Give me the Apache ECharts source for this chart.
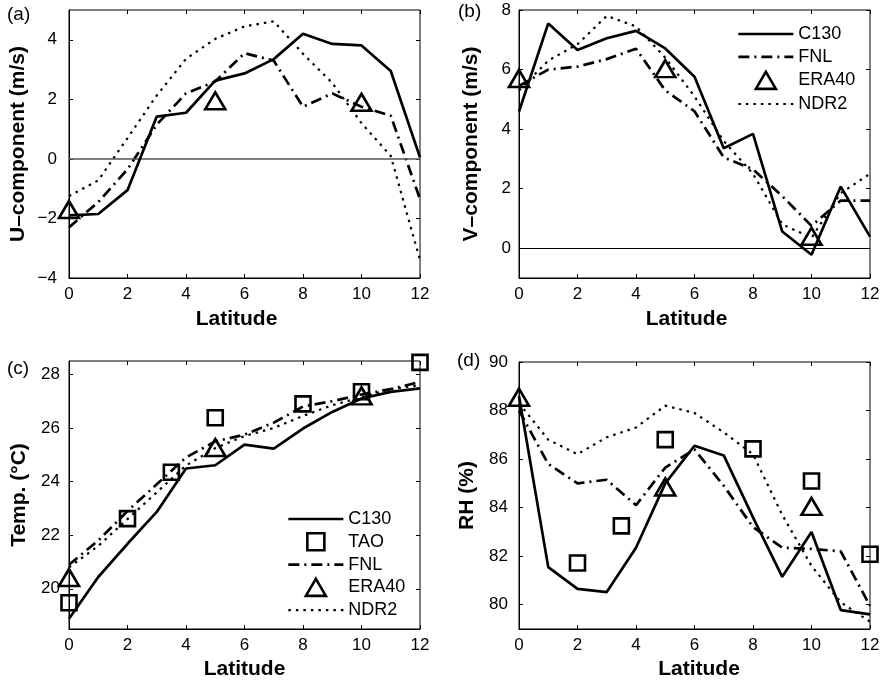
<!DOCTYPE html>
<html>
<head>
<meta charset="utf-8">
<script src="https://cdn.jsdelivr.net/npm/echarts@6/dist/echarts.min.js"></script>
<style>html,body{margin:0;padding:0;background:#fff;}#c{width:884px;height:683px;}</style>
</head>
<body>
<div id="c"></div>
<script>
// ---------- data ----------
const lat = [0, 1, 2, 3, 4, 5, 6, 7, 8, 9, 10, 11, 12];
const xTicks = [0, 2, 4, 6, 8, 10, 12];

// (a) U-component (m/s)
const aC130 = [-1.9, -1.85, -1.05, 1.42, 1.55, 2.63, 2.87, 3.35, 4.2, 3.86, 3.81, 2.95, 0.05];
const aFNL  = [-2.3, -1.45, -0.35, 1.15, 2.2, 2.6, 3.55, 3.3, 1.75, 2.2, 1.75, 1.45, -1.35];
const aNDR2 = [-1.25, -0.72, 0.7, 2.13, 3.36, 4.03, 4.45, 4.62, 3.53, 2.55, 1.2, 0.1, -3.4];
const aERA40 = [[0, -1.7], [5, 1.95], [10, 1.9]];
const aYTicks = [-4, -2, 0, 2, 4];

// (b) V-component (m/s)
const bC130 = [4.59, 7.55, 6.66, 7.05, 7.3, 6.71, 5.76, 3.36, 3.84, 0.56, -0.22, 2.07, 0.39];
const bFNL  = [5.45, 6.0, 6.1, 6.35, 6.7, 5.3, 4.6, 3.05, 2.65, 1.75, 0.75, 1.6, 1.6];
const bNDR2 = [5.3, 6.3, 6.85, 7.8, 7.45, 6.4, 5.1, 3.6, 2.5, 0.8, 0.35, 1.85, 2.5];
const bERA40 = [[0, 5.7], [5, 6.03], [10, 0.4]];
const bYTicks = [0, 2, 4, 6, 8];

// (c) Temperature (°C)
const cC130 = [18.88, 20.44, 21.68, 22.87, 24.49, 24.61, 25.38, 25.23, 25.98, 26.6, 27.1, 27.35, 27.48];
const cFNL  = [20.9, 21.8, 22.9, 23.9, 24.9, 25.5, 25.75, 26.2, 26.8, 27.0, 27.25, 27.45, 27.72];
const cNDR2 = [20.8, 21.6, 22.6, 23.6, 24.6, 25.25, 25.7, 26.0, 26.45, 26.85, 27.15, 27.45, 27.6];
const cTAO = [[0, 19.48], [2, 22.62], [3.5, 24.35], [5, 26.38], [8, 26.9], [10, 27.35], [12, 28.45]];
const cERA40 = [[0, 20.42], [5, 25.27], [10, 27.2]];
const cYTicks = [20, 22, 24, 26, 28];

// (d) RH (%)
const dC130 = [88.6, 81.55, 80.65, 80.52, 82.35, 85.0, 86.55, 86.15, 83.6, 81.15, 83.0, 79.78, 79.6];
const dFNL  = [88.0, 85.8, 85.0, 85.15, 84.1, 85.65, 86.4, 84.9, 83.2, 82.35, 82.3, 82.2, 79.95];
const dNDR2 = [88.3, 86.8, 86.2, 86.9, 87.3, 88.2, 87.9, 87.1, 86.2, 83.7, 81.6, 80.1, 79.3];
const dTAO = [[2, 81.72], [3.5, 83.25], [5, 86.8], [8, 86.42], [10, 85.1], [12, 82.08]];
const dERA40 = [[0, 88.55], [5, 84.85], [10, 84.05]];
const dYTicks = [80, 82, 84, 86, 88, 90];

// ---------- styling ----------
const FF = '"Liberation Sans", Arial, Helvetica, sans-serif';
const pair = (ys) => lat.map((x, i) => [x, ys[i]]);
const fmtNum = (v) => String(v).replace('-', '\u2212');

const panels = [
  {grid: {left: 69, top: 10, width: 351, height: 268}, ymin: -4, ymax: 5, yticks: aYTicks,
   yname: 'U\u2013component (m/s)', ylabMargin: 12, ynameGap: 40, xnamePad: [0, 16, 0, 0], xnameGap: 31,
   C130: aC130, FNL: aFNL, NDR2: aNDR2, ERA40: aERA40, TAO: null, zero: '#555'},
  {grid: {left: 519, top: 10, width: 351, height: 268}, ymin: -1, ymax: 8, yticks: bYTicks,
   yname: 'V\u2013component (m/s)', ylabMargin: 8, ynameGap: 37, xnamePad: [0, 16, 0, 0], xnameGap: 31,
   C130: bC130, FNL: bFNL, NDR2: bNDR2, ERA40: bERA40, TAO: null, zero: '#000'},
  {grid: {left: 69, top: 361, width: 351, height: 268}, ymin: 18.5, ymax: 28.5, yticks: cYTicks,
   yname: 'Temp. (\u00B0C)', ylabMargin: 9, ynameGap: 39, xnamePad: [0, 0, 0, 0], xnameGap: 30,
   C130: cC130, FNL: cFNL, NDR2: cNDR2, ERA40: cERA40, TAO: cTAO, zero: null},
  {grid: {left: 519, top: 362, width: 351, height: 267}, ymin: 79, ymax: 90, yticks: dYTicks,
   yname: 'RH (%)', ylabMargin: 11, ynameGap: 41, xnamePad: [0, 0, 0, 9], xnameGap: 30,
   C130: dC130, FNL: dFNL, NDR2: dNDR2, ERA40: dERA40, TAO: dTAO, zero: null}
];

const grids = [], xAxes = [], yAxes = [], series = [];
const black = '#000';
const hollow = {color: 'rgba(255,255,255,0)', borderColor: black, borderWidth: 2.6, opacity: 1};
const styles = {
  C130: {color: black, width: 2.7, type: 'solid'},
  FNL: {color: black, width: 2.7, type: [11, 5, 2, 5]},
  NDR2: {color: black, width: 2.2, type: [2.5, 5]}
};

panels.forEach((p, i) => {
  grids.push(Object.assign({show: true, borderColor: black, borderWidth: 1, containLabel: false}, p.grid));
  xAxes.push({
    type: 'value', gridIndex: i, min: 0, max: 12, interval: 2, position: 'bottom',
    axisLine: {show: true, onZero: false, lineStyle: {color: black, width: 1}},
    axisTick: {show: true, inside: true, length: 4, lineStyle: {color: black}},
    axisLabel: {color: black, fontSize: 17, margin: 8, fontFamily: FF},
    splitLine: {show: false},
    name: 'Latitude', nameLocation: 'middle', nameGap: p.xnameGap,
    nameTextStyle: {color: black, fontSize: 21, fontWeight: 'bold', fontFamily: FF, padding: p.xnamePad}
  });
  xAxes.push({
    type: 'value', gridIndex: i, min: 0, max: 12, interval: 2, position: 'top',
    axisLine: {show: false, onZero: false},
    axisTick: {show: true, inside: true, length: 4, lineStyle: {color: black}},
    axisLabel: {show: false}, splitLine: {show: false}
  });
  yAxes.push({
    type: 'value', gridIndex: i, min: p.ymin, max: p.ymax, position: 'left',
    axisLine: {show: true, onZero: false, lineStyle: {color: black, width: 1}},
    axisTick: {show: true, inside: true, length: 4, lineStyle: {color: black}, customValues: p.yticks},
    axisLabel: {color: black, fontSize: 17, margin: p.ylabMargin, fontFamily: FF, customValues: p.yticks, formatter: fmtNum},
    splitLine: {show: false},
    name: p.yname, nameLocation: 'middle', nameGap: p.ynameGap, nameRotate: 90,
    nameTextStyle: {color: black, fontSize: 21, fontWeight: 'bold', fontFamily: FF}
  });
  yAxes.push({
    type: 'value', gridIndex: i, min: p.ymin, max: p.ymax, position: 'right',
    axisLine: {show: false, onZero: false},
    axisTick: {show: true, inside: true, length: 4, lineStyle: {color: black}, customValues: p.yticks},
    axisLabel: {show: false}, splitLine: {show: false}
  });

  const xi = 2 * i, yi = 2 * i;
  const c130 = {
    name: 'C130', type: 'line', xAxisIndex: xi, yAxisIndex: yi, data: pair(p.C130),
    symbol: 'none', showSymbol: false, z: 5,
    lineStyle: styles.C130, itemStyle: {color: black}
  };
  if (p.zero) {
    c130.markLine = {
      silent: true, symbol: 'none', label: {show: false}, animation: false,
      lineStyle: {color: p.zero, width: p.zero === '#000' ? 1 : 1.5, type: 'solid'},
      data: [{yAxis: 0}]
    };
  }
  series.push(c130);
  series.push({
    name: 'FNL', type: 'line', xAxisIndex: xi, yAxisIndex: yi, data: pair(p.FNL),
    symbol: 'none', showSymbol: false, z: 4,
    lineStyle: styles.FNL, itemStyle: {color: black}
  });
  series.push({
    name: 'NDR2', type: 'line', xAxisIndex: xi, yAxisIndex: yi, data: pair(p.NDR2),
    symbol: 'none', showSymbol: false, z: 3,
    lineStyle: styles.NDR2, itemStyle: {color: black}
  });
  if (p.TAO) {
    series.push({
      name: 'TAO', type: 'scatter', xAxisIndex: xi, yAxisIndex: yi, data: p.TAO,
      symbol: 'rect', symbolSize: 15, symbolKeepAspect: true, clip: false, z: 6,
      itemStyle: hollow
    });
  }
  series.push({
    name: 'ERA40', type: 'scatter', xAxisIndex: xi, yAxisIndex: yi, data: p.ERA40,
    symbol: 'triangle', symbolSize: [20, 17], symbolKeepAspect: true, clip: false, z: 7,
    itemStyle: hollow
  });
});

const legendText = {color: black, fontSize: 18, fontFamily: FF};
const noSym = {color: 'rgba(0,0,0,0)', borderWidth: 0, opacity: 0};
const lineItem = (n) => ({name: n, itemStyle: noSym, lineStyle: styles[n]});
const triItem = {name: 'ERA40', icon: 'path://M0,17L10,0L20,17Z', itemStyle: hollow};
const sqItem = {name: 'TAO', icon: 'path://M0,0L15,0L15,15L0,15Z', itemStyle: hollow};
const option = {
  animation: false,
  backgroundColor: '#fff',
  textStyle: {fontFamily: FF},
  grid: grids, xAxis: xAxes, yAxis: yAxes, series: series,
  legend: [
    {orient: 'vertical', left: 737, top: 25, padding: 0, itemWidth: 55, itemHeight: 17, itemGap: 4.8,
     symbolKeepAspect: true, selectedMode: false, textStyle: legendText,
     data: [lineItem('C130'), lineItem('FNL'), triItem, lineItem('NDR2')]},
    {orient: 'vertical', left: 287, top: 510, padding: 0, itemWidth: 55, itemHeight: 17, itemGap: 4,
     symbolKeepAspect: true, selectedMode: false, textStyle: legendText,
     data: [lineItem('C130'), sqItem, lineItem('FNL'), triItem, lineItem('NDR2')]}
  ],
  graphic: [
    {type: 'text', left: 7, top: 5, style: {text: '(a)', fontSize: 19, fontFamily: FF, fill: black}},
    {type: 'text', left: 458, top: 2, style: {text: '(b)', fontSize: 19, fontFamily: FF, fill: black}},
    {type: 'text', left: 7, top: 359, style: {text: '(c)', fontSize: 19, fontFamily: FF, fill: black}},
    {type: 'text', left: 457, top: 351, style: {text: '(d)', fontSize: 19, fontFamily: FF, fill: black}}
  ]
};

const chart = echarts.init(document.getElementById('c'), null, {renderer: 'canvas'});
chart.setOption(option);
</script>
</body>
</html>
